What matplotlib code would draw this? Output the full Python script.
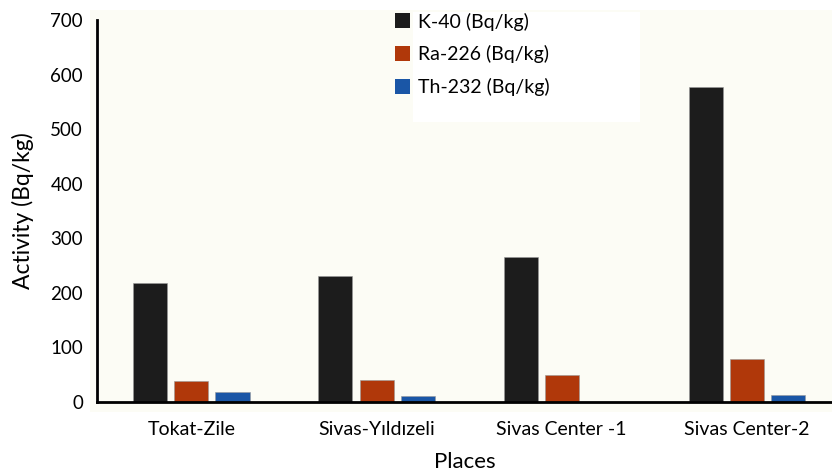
import matplotlib.pyplot as plt
import numpy as np
from matplotlib.patches import Rectangle

places = ['Tokat-Zile', 'Sivas-Yıldızeli', 'Sivas Center -1', 'Sivas Center-2']
k40 = [218, 231, 265, 577]
ra226 = [38, 40, 49, 78]
th232 = [18, 11, 0, 13]
series_labels = ['K-40 (Bq/kg)', 'Ra-226 (Bq/kg)', 'Th-232 (Bq/kg)']
colors = ['#1c1c1c', '#b0380a', '#1a56a6']

plt.rcParams['font.family'] = ['Lato', 'DejaVu Sans']

fig = plt.figure(figsize=(8.32, 4.76), dpi=100)
ax = fig.add_axes([97 / 832, 1 - 402 / 476, 1 - 97 / 832, (402 - 20) / 476])
ax.set_facecolor('none')

# cream panel behind the plot and white box behind the legend
ax.add_patch(Rectangle((90 / 832, 1 - 412 / 476), 1, (412 - 10) / 476,
                       transform=fig.transFigure, facecolor='#fcfcf5',
                       edgecolor='none', zorder=0, clip_on=False))
ax.add_patch(Rectangle((413 / 832, 1 - 122 / 476), (640 - 413) / 832, (122 - 12) / 476,
                       transform=fig.transFigure, facecolor='white',
                       edgecolor='none', zorder=1, clip_on=False))

x = np.arange(len(places))
w = 0.184
off = 0.222
for i, (vals, lab, c) in enumerate(zip([k40, ra226, th232], series_labels, colors)):
    ax.bar(x + (i - 1) * off, vals, w, color=c, label=lab,
           edgecolor='#999999', linewidth=0.4, zorder=3)

ax.set_xlim(-0.51, 3.46)
ax.set_ylim(0, 700)
ax.set_yticks(range(0, 701, 100))
ax.set_xticks(x)
ax.set_xticklabels(places, fontsize=14)
ax.tick_params(axis='y', labelsize=13.5, length=0, pad=10)
ax.tick_params(axis='x', length=0, pad=14)
for s in ['top', 'right']:
    ax.spines[s].set_visible(False)
for s in ['left', 'bottom']:
    ax.spines[s].set_linewidth(2)
    ax.spines[s].set_zorder(4)
ax.set_ylabel('Activity (Bq/kg)', fontsize=16.5, labelpad=12)
ax.set_xlabel('Places', fontsize=16, labelpad=10)

leg = ax.legend(loc='upper left', bbox_to_anchor=(377 / 832, 1 + 5 / 476),
                bbox_transform=fig.transFigure, frameon=False, fontsize=14,
                handlelength=0.8, handleheight=0.8, handletextpad=0.4,
                labelspacing=0.75)
for h in leg.legend_handles:
    h.set_edgecolor('none')

fig.savefig('out.png', dpi=100)
